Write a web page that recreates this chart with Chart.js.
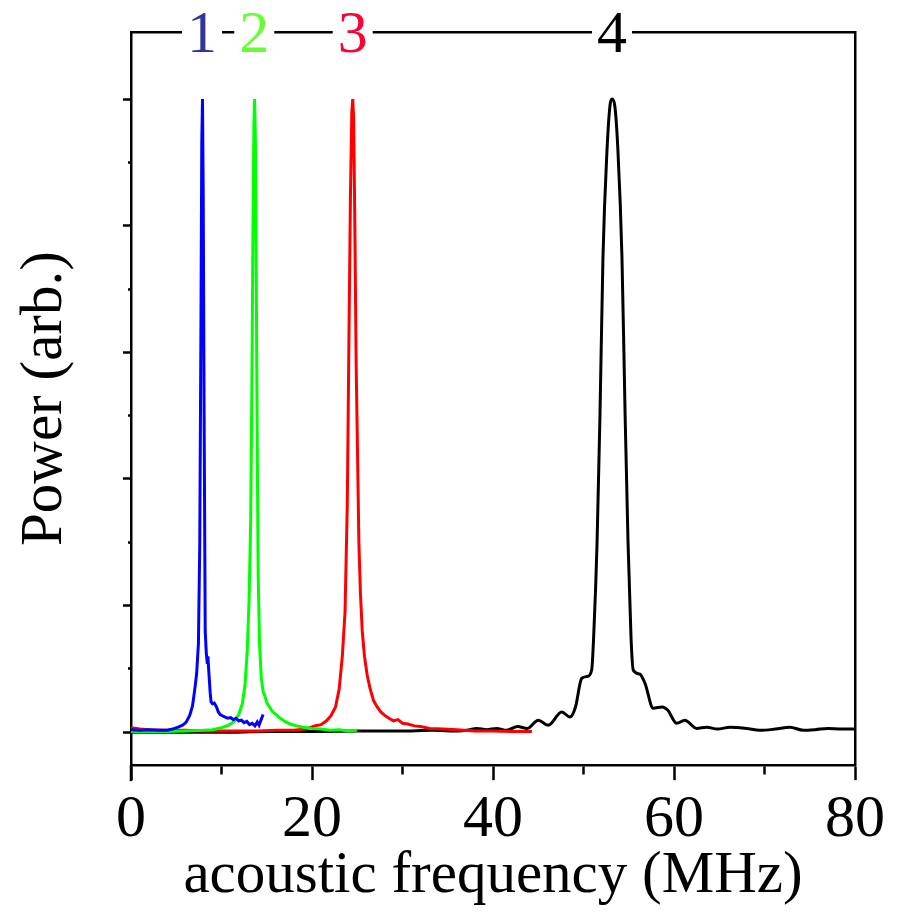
<!DOCTYPE html>
<html><head><meta charset="utf-8">
<script src="https://cdn.jsdelivr.net/npm/chart.js@4.4.1/dist/chart.umd.min.js"></script>
<style>html,body{margin:0;padding:0;background:#fff;}canvas{display:block;}</style>
</head><body>
<canvas id="c" width="897" height="916"></canvas>
<script>
// ---- data (MHz, arbitrary power) ----
const freq1 = [0, 1, 2, 3, 4, 4.6, 5.2, 5.7, 6.1, 6.5, 6.8, 7.05, 7.25, 7.45, 7.6, 7.72, 7.82, 7.9, 7.98, 8.08, 8.2, 8.32, 8.42, 8.5, 8.58, 8.66, 8.75, 8.85, 9.0, 9.2, 9.45, 9.65, 9.85, 10.1, 10.4, 10.7, 11.0, 11.3, 11.6, 11.9, 12.2, 12.5, 12.8, 13.1, 13.4, 13.7, 13.95, 14.15, 14.35, 14.6];
const power1 = [0.004, 0.003, 0.004, 0.003, 0.003, 0.005, 0.008, 0.011, 0.016, 0.027, 0.042, 0.068, 0.092, 0.14, 0.30, 0.62, 0.93, 1.0, 0.85, 0.50, 0.16, 0.125, 0.11, 0.12, 0.10, 0.082, 0.062, 0.048, 0.045, 0.046, 0.040, 0.032, 0.028, 0.026, 0.024, 0.022, 0.023, 0.020, 0.022, 0.018, 0.019, 0.015, 0.017, 0.012, 0.014, 0.010, 0.016, 0.011, 0.019, 0.028];

const freq2 = [0, 2, 4, 6, 8, 9, 10, 10.8, 11.4, 11.9, 12.3, 12.6, 12.85, 13.05, 13.22, 13.36, 13.48, 13.58, 13.66, 13.75, 13.85, 13.95, 14.05, 14.2, 14.4, 14.6, 14.8, 15.0, 15.3, 15.6, 16.0, 16.5, 17.0, 17.6, 18.3, 19.0, 20.0, 21.0, 22.0, 23.0, 24.0, 25.0];
const power2 = [0.001, 0.001, 0.001, 0.002, 0.003, 0.004, 0.007, 0.011, 0.017, 0.028, 0.045, 0.075, 0.13, 0.21, 0.33, 0.55, 0.80, 0.96, 1.0, 0.93, 0.70, 0.45, 0.25, 0.14, 0.085, 0.064, 0.057, 0.047, 0.040, 0.033, 0.028, 0.022, 0.017, 0.013, 0.010, 0.008, 0.006, 0.005, 0.003, 0.004, 0.002, 0.003];

const freq3 = [0, 1, 2, 4, 6, 8, 10, 12, 14, 16, 18, 19.3, 20.3, 21.0, 21.6, 22.1, 22.6, 23.0, 23.35, 23.65, 23.9, 24.08, 24.25, 24.4, 24.5, 24.6, 24.72, 24.88, 25.02, 25.18, 25.35, 25.55, 25.8, 26.1, 26.4, 26.8, 27.2, 27.6, 28.0, 28.5, 29.0, 29.5, 30.0, 30.6, 31.3, 32.0, 33.0, 34.5, 36, 38, 40, 42, 44.3];
const power3 = [0.007, 0.005, 0.004, 0.003, 0.003, 0.002, 0.002, 0.002, 0.002, 0.003, 0.003, 0.005, 0.010, 0.012, 0.018, 0.026, 0.040, 0.068, 0.12, 0.19, 0.36, 0.62, 0.85, 0.98, 1.0, 0.97, 0.82, 0.58, 0.45, 0.30, 0.22, 0.16, 0.12, 0.09, 0.07, 0.05, 0.04, 0.032, 0.027, 0.022, 0.018, 0.020, 0.014, 0.013, 0.010, 0.009, 0.006, 0.005, 0.004, 0.002, 0.002, 0.001, 0.001];

const freq4 = [0, 5, 10, 15, 20, 25, 29.7, 33.4, 36.2, 37.1, 38.2, 39.3, 40.4, 41.5, 42.7, 43.8, 45.0, 46.1, 47.6, 48.5, 49.1, 49.8, 50.4, 50.9, 51.15, 51.5, 51.82, 52.15, 52.6, 52.93, 53.15, 53.45, 53.8, 54.25, 54.6, 54.92, 55.25, 55.5, 56.2, 56.8, 57.7, 58.7, 59.3, 60.3, 61.2, 62.5, 63.6, 64.8, 66.2, 68.0, 69.5, 71.2, 72.8, 74.3, 75.6, 77.0, 78.5, 80];
const power4 = [0.0, 0.0, 0.0, 0.001, 0.001, 0.002, 0.002, 0.003, 0.002, 0.003, 0.006, 0.004, 0.006, 0.003, 0.009, 0.006, 0.019, 0.011, 0.032, 0.024, 0.039, 0.085, 0.088, 0.098, 0.16, 0.30, 0.50, 0.75, 0.92, 0.99, 1.0, 0.99, 0.92, 0.75, 0.50, 0.30, 0.15, 0.098, 0.092, 0.077, 0.038, 0.040, 0.035, 0.014, 0.019, 0.006, 0.008, 0.005, 0.008, 0.006, 0.003, 0.005, 0.008, 0.003, 0.004, 0.006, 0.005, 0.005];

const peakFreqs = [7.85, 13.62, 24.5, 53.15];
const peakLabels = ['1', '2', '3', '4'];
const peakLabelColors = ['#333399', '#66ff33', '#ff0033', '#000000'];
const seriesColors = ['#0000ff', '#00ff00', '#ff0000', '#000000'];

const xMajorTicks = [0, 20, 40, 60, 80];
const xMinorTicks = [10, 30, 50, 70];
const yMajorTicks = [0, 0.2, 0.4, 0.6, 0.8, 1.0];
const yMinorTicks = [0.1, 0.3, 0.5, 0.7, 0.9];

const xTitle = 'acoustic frequency (MHz)';
const yTitle = 'Power (arb.)';

// ---- chart ----
const SERIF = '"Liberation Serif", "Times New Roman", Times, serif';
const pts = (f, v) => f.map((x, i) => ({x: x, y: v[i]}));
const near = (a, b) => Math.abs(a - b) < 1e-6;
const isIn = (arr, v) => arr.some(t => near(t, v));

// extends the left axis line a little below the x axis and writes the
// peak numbers onto the top frame line (positions come from the x scale)
const frameDecor = {
  id: 'frameDecor',
  afterDraw(chart) {
    const {ctx, chartArea: a} = chart;
    const xs = chart.scales.x;
    ctx.save();
    ctx.strokeStyle = '#000';
    ctx.lineWidth = 2.5;
    ctx.beginPath();
    ctx.moveTo(a.left, a.bottom);
    ctx.lineTo(a.left, a.bottom + 16);
    ctx.stroke();
    ctx.font = '60px ' + SERIF;
    ctx.textAlign = 'center';
    ctx.textBaseline = 'alphabetic';
    peakFreqs.forEach((f, i) => {
      const px = xs.getPixelForValue(f);
      const w = ctx.measureText(peakLabels[i]).width;
      ctx.fillStyle = '#ffffff';
      ctx.fillRect(px - w / 2 - 5, a.top - 6, w + 10, 12);
      ctx.fillStyle = peakLabelColors[i];
      ctx.fillText(peakLabels[i], px, a.top + 20);
    });
    ctx.restore();
  }
};

const mk = (f, v, c, smooth) => ({
  data: pts(f, v), borderColor: c, borderWidth: 3, pointRadius: 0,
  fill: false, tension: 0, cubicInterpolationMode: smooth ? 'monotone' : 'default'
});

new Chart(document.getElementById('c'), {
  type: 'line',
  data: {
    datasets: [
      mk(freq1, power1, seriesColors[0], false),
      mk(freq2, power2, seriesColors[1], false),
      mk(freq3, power3, seriesColors[2], false),
      mk(freq4, power4, seriesColors[3], true)
    ]
  },
  plugins: [frameDecor],
  options: {
    responsive: false,
    animation: false,
    layout: {padding: {left: 10, right: 42, top: 32, bottom: 24}},
    plugins: {legend: {display: false}, tooltip: {enabled: false}},
    scales: {
      x: {
        type: 'linear', position: 'bottom', min: 0, max: 80,
        afterBuildTicks: (ax) => { ax.ticks = xMajorTicks.concat(xMinorTicks).sort((a, b) => a - b).map(v => ({value: v})); },
        border: {display: true, color: '#000', width: 2.5},
        grid: {
          drawOnChartArea: false, drawTicks: true, tickLength: 15, tickWidth: 2.5, tickColor: '#000',
          tickBorderDash: (ctx) => (ctx.tick && isIn(xMinorTicks, ctx.tick.value)) ? [8, 100] : []
        },
        ticks: {
          color: '#000', padding: 10, maxRotation: 0, autoSkip: false,
          font: {family: SERIF, size: 60, lineHeight: 1.0},
          callback: (v) => isIn(xMajorTicks, v) ? String(v) : ''
        },
        title: {display: true, text: xTitle, color: '#000', padding: {top: 0, bottom: 0},
          font: {family: SERIF, size: 59, lineHeight: 0.54}}
      },
      x2: {
        type: 'linear', position: 'top', min: 0, max: 80,
        border: {display: true, color: '#000', width: 2.5},
        grid: {drawOnChartArea: false, drawTicks: false},
        ticks: {display: false}
      },
      y: {
        type: 'linear', position: 'left', min: -0.052, max: 1.106,
        afterBuildTicks: (ax) => { ax.ticks = yMajorTicks.concat(yMinorTicks).sort((a, b) => a - b).map(v => ({value: v})); },
        border: {display: true, color: '#000', width: 2.5},
        grid: {
          drawOnChartArea: false, drawTicks: true, tickLength: 8, tickWidth: 2.5, tickColor: '#000',
          tickBorderDash: (ctx) => (ctx.tick && isIn(yMinorTicks, ctx.tick.value)) ? [0, 5, 3, 100] : []
        },
        ticks: {display: false},
        title: {display: true, text: yTitle, color: '#000', padding: {top: 6, bottom: 48},
          font: {family: SERIF, size: 59, lineHeight: 1.0}}
      },
      y2: {
        type: 'linear', position: 'right', min: -0.052, max: 1.106,
        border: {display: true, color: '#000', width: 2.5},
        grid: {drawOnChartArea: false, drawTicks: false},
        ticks: {display: false}
      }
    }
  }
});
</script>
</body></html>
